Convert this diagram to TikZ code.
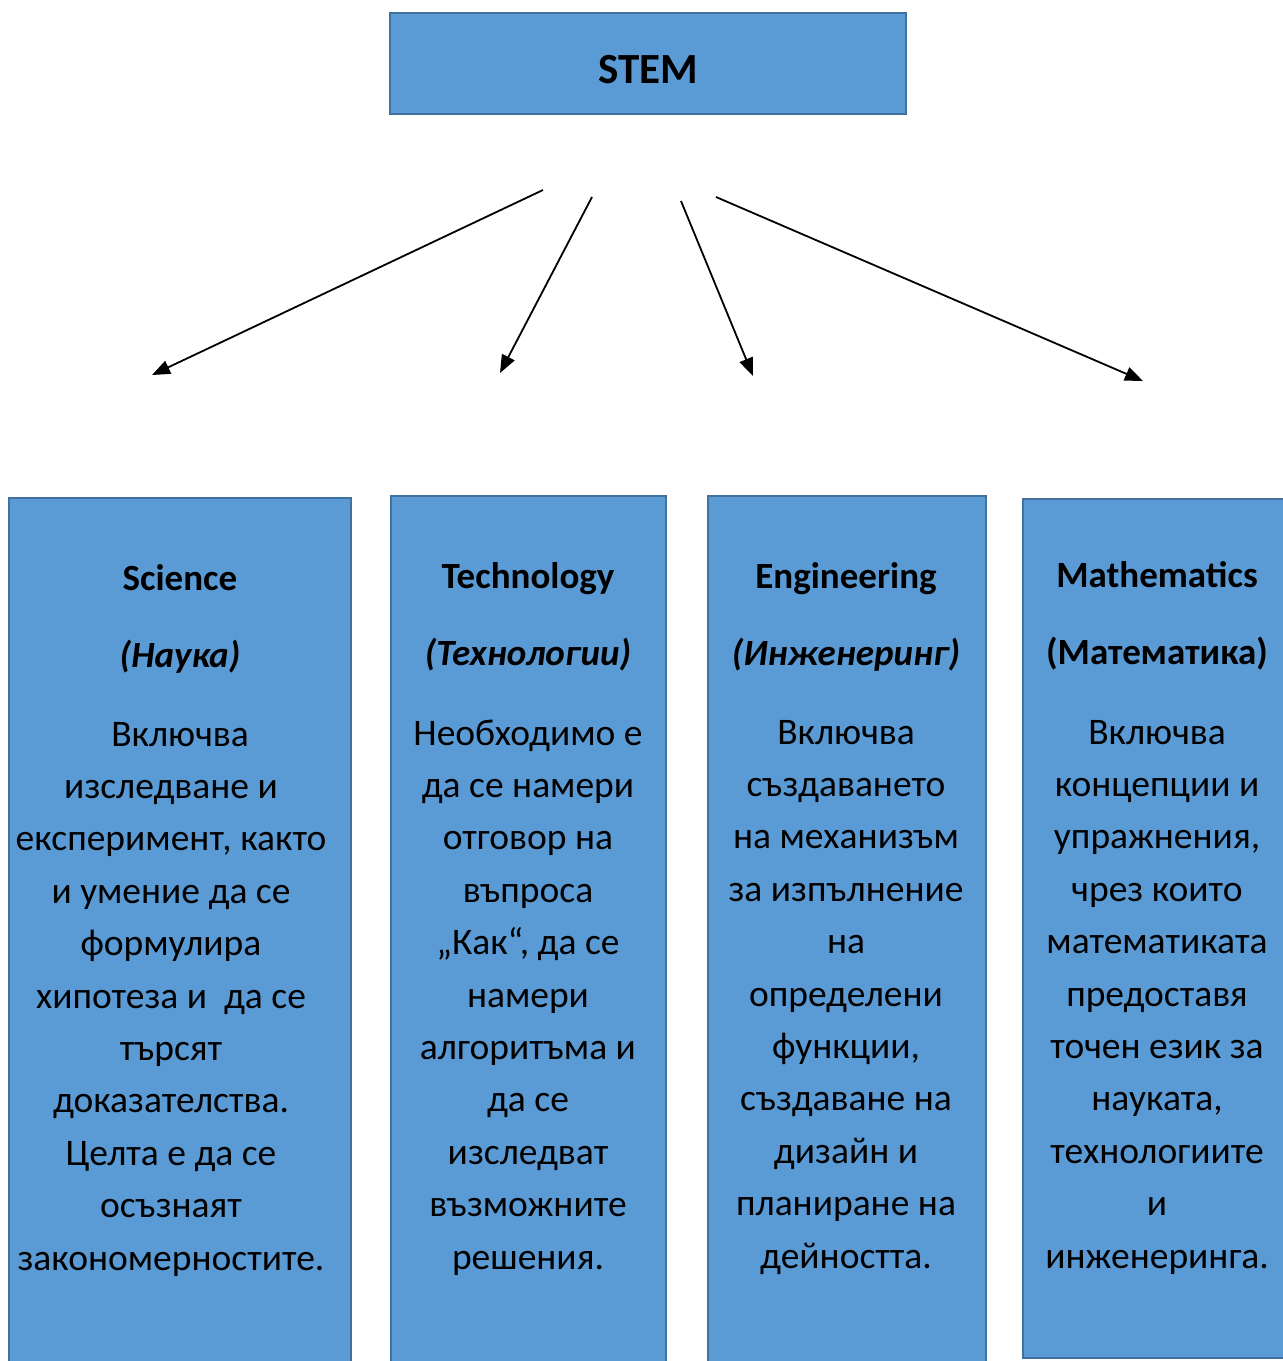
\documentclass[tikz,border=0pt]{standalone}
\usepackage{fontspec}
\setmainfont{Carlito}
\usetikzlibrary{arrows.meta}
\definecolor{boxfill}{HTML}{5B9BD5}
\definecolor{boxline}{HTML}{41719C}

\begin{document}
\begin{tikzpicture}[x=1pt,y=-1pt,
    panel/.style={draw=boxline,fill=boxfill,line width=2.5pt},
    heading/.style={anchor=base,font=\bfseries\fontsize{37}{44}\selectfont},
    subheading/.style={anchor=base,font=\bfseries\itshape\fontsize{37}{44}\selectfont},
    body/.style={anchor=base,align=center,font=\fontsize{37.5}{52.4}\selectfont},
    link/.style={-{Triangle[length=18pt,width=14pt]},line width=1.8pt}]
    \clip (0,0) rectangle (1283,1361);
    % top box
    \node[panel,minimum width=516pt,minimum height=101pt] (stem) at (648,63.5) {};
    \node[anchor=base,font=\bfseries\fontsize{43}{48}\selectfont] (stemtext) at (648,83) {STEM};
    % arrows
    \coordinate (a1) at (543,190); \coordinate (b1) at (152,375);
    \coordinate (a2) at (592,197); \coordinate (b2) at (500,373);
    \coordinate (a3) at (681,201); \coordinate (b3) at (753,376);
    \coordinate (a4) at (716,197); \coordinate (b4) at (1143,381);
    \draw[link] (a1)--(b1);
    \draw[link] (a2)--(b2);
    \draw[link] (a3)--(b3);
    \draw[link] (a4)--(b4);
    % columns
    \draw[panel] (9,498) rectangle (351,1400);
    \draw[panel] (391,496) rectangle (666,1400);
    \draw[panel] (708,496) rectangle (986,1400);
    \draw[panel] (1023,499) rectangle (1300,1358);
    % science (body node sits on its last baseline)
    \node[heading] (sci) at (180,590) {Science};
    \node[subheading] (scibg) at (180,667) {(Наука)};
    \node[body] (scitext) at (171,1270) {\hspace*{18pt}Включва\\изследване и\\експеримент, както\\и умение да се\\формулира\\хипотеза и\ \ да се\\търсят\\доказателства.\\Целта е да се\\осъзнаят\\закономерностите.};
    % technology
    \node[heading] (tech) at (528,588) {Technology};
    \node[subheading] (techbg) at (528,665) {(Технологии)};
    \node[body] (techtext) at (528,1269) {Необходимо е\\да се намери\\отговор на\\въпроса\\„Как“, да се\\намери\\алгоритъма и\\да се\\изследват\\възможните\\решения.};
    % engineering
    \node[heading] (eng) at (846,588) {Engineering};
    \node[subheading] (engbg) at (846,665) {(Инженеринг)};
    \node[body] (engtext) at (846,1268) {Включва\\създаването\\на механизъм\\за изпълнение\\на\\определени\\функции,\\създаване на\\дизайн и\\планиране на\\дейността.};
    % mathematics
    \node[heading] (math) at (1157,587) {Mathematics};
    \node[heading] (mathbg) at (1157,664) {(Математика)};
    \node[body] (mathtext) at (1157,1268) {Включва\\концепции и\\упражнения,\\чрез които\\математиката\\предоставя\\точен език за\\науката,\\технологиите\\и\\инженеринга.};
\end{tikzpicture}
\end{document}
